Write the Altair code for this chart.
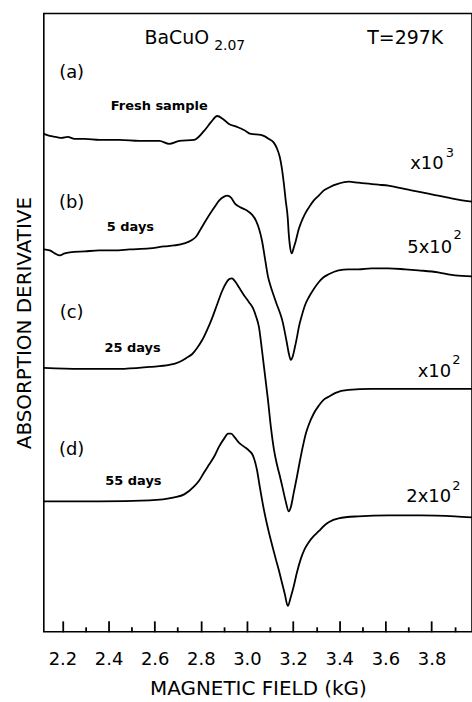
import altair as alt
import pandas as pd

# ---- curve data (field in kG, signal in arbitrary offset units) ----
field_a = [2.120, 2.145, 2.171, 2.197, 2.223, 2.253, 2.297, 2.361, 2.448, 2.534, 2.620, 2.663, 2.707, 2.771,
           2.814, 2.845, 2.871, 2.896, 2.922, 2.957, 2.987, 3.017, 3.060, 3.095, 3.117, 3.129, 3.142, 3.151,
           3.160, 3.168, 3.177, 3.181, 3.186, 3.194, 3.203, 3.211, 3.224, 3.233, 3.250, 3.268, 3.289, 3.311,
           3.332, 3.354, 3.397, 3.440, 3.483, 3.527, 3.570, 3.613, 3.656, 3.699, 3.742, 3.786, 3.829, 3.872,
           3.915, 3.975]
sig_a = [500, 498, 497, 496, 497, 495, 495, 494, 494, 493, 493, 490, 493, 494, 503, 512, 518, 515, 510, 507,
         504, 500, 499, 495, 491, 486, 477, 466, 450, 433, 415, 400, 388, 380, 386, 392, 404, 410, 419, 426,
         433, 438, 443, 446, 450, 452, 451, 450, 449, 448, 446, 444, 442, 440, 438, 436, 434, 432]

field_b = [2.120, 2.145, 2.167, 2.189, 2.210, 2.232, 2.297, 2.361, 2.426, 2.491, 2.577, 2.642, 2.685, 2.728,
           2.758, 2.780, 2.801, 2.827, 2.858, 2.879, 2.901, 2.914, 2.931, 2.948, 2.974, 3.000, 3.022, 3.039,
           3.052, 3.065, 3.078, 3.091, 3.104, 3.117, 3.129, 3.142, 3.155, 3.164, 3.173, 3.181, 3.190, 3.199,
           3.207, 3.216, 3.224, 3.237, 3.250, 3.268, 3.289, 3.311, 3.332, 3.354, 3.397, 3.440, 3.483, 3.539,
           3.613, 3.686, 3.742, 3.829, 3.872, 3.902, 3.975]
sig_b = [384, 383, 380, 378, 380, 381, 382, 383, 383, 384, 385, 387, 388, 390, 393, 397, 405, 415, 426, 433,
         437, 438, 436, 430, 426, 423, 419, 413, 405, 393, 375, 357, 346, 337, 329, 321, 311, 301, 290, 280,
         273, 277, 285, 295, 305, 317, 327, 336, 344, 351, 356, 359, 363, 364, 364, 365, 365, 364, 363, 361,
         359, 358, 357]

field_c = [2.120, 2.275, 2.448, 2.577, 2.663, 2.707, 2.737, 2.763, 2.784, 2.806, 2.827, 2.849, 2.871, 2.892,
           2.909, 2.922, 2.935, 2.948, 2.965, 2.987, 3.009, 3.026, 3.039, 3.052, 3.065, 3.078, 3.091, 3.104,
           3.117, 3.129, 3.142, 3.155, 3.168, 3.181, 3.190, 3.203, 3.216, 3.229, 3.242, 3.255, 3.268, 3.289,
           3.311, 3.332, 3.354, 3.384, 3.440, 3.539, 3.656, 3.975]
sig_c = [265, 264, 264, 266, 268, 271, 275, 279, 285, 293, 303, 315, 329, 342, 350, 354, 355, 352, 346, 338,
         331, 325, 317, 306, 283, 258, 233, 205, 183, 169, 157, 144, 131, 121, 125, 140, 155, 171, 186, 199,
         208, 219, 227, 233, 236, 240, 243, 244, 244, 244]

field_d = [2.120, 2.361, 2.577, 2.685, 2.728, 2.771, 2.793, 2.814, 2.836, 2.858, 2.879, 2.901, 2.918, 2.931,
           2.948, 2.965, 2.987, 3.009, 3.026, 3.043, 3.056, 3.069, 3.082, 3.095, 3.108, 3.125, 3.138, 3.151,
           3.164, 3.177, 3.190, 3.203, 3.216, 3.233, 3.250, 3.268, 3.289, 3.311, 3.332, 3.354, 3.397, 3.483,
           3.613, 3.755, 3.902, 3.975]
sig_d = [131, 131, 132, 135, 138, 146, 152, 160, 168, 176, 186, 194, 199, 199, 195, 190, 186, 182, 177, 163,
         145, 128, 113, 100, 88, 73, 62, 50, 38, 26, 35, 46, 59, 73, 83, 90, 96, 101, 106, 110,
         114, 116, 117, 117, 116, 115]

# ---- axis tick values ----
major_ticks = [2.2, 2.4, 2.6, 2.8, 3.0, 3.2, 3.4, 3.6, 3.8]
all_ticks = [2.2, 2.3, 2.4, 2.5, 2.6, 2.7, 2.8, 2.9, 3.0, 3.1, 3.2, 3.3, 3.4, 3.5, 3.6, 3.7, 3.8, 3.9]

# ---- annotations ----
panel_labels = ["(a)", "(b)", "(c)", "(d)"]
panel_field = [2.240, 2.240, 2.240, 2.240]
panel_signal = [561, 431, 320, 183]

age_labels = ["Fresh sample", "5 days", "25 days", "55 days"]
age_field = [2.620, 2.495, 2.504, 2.508]
age_signal = [528, 407, 285, 151]

gain_labels = ["x10", "5x10", "x10", "2x10"]
gain_field = [3.852, 3.889, 3.885, 3.885]
gain_signal = [465, 380, 256, 130]
gain_exp = ["3", "2", "2", "2"]
gain_exp_field = [3.862, 3.895, 3.890, 3.890]
gain_exp_signal = [477, 394, 269, 142]

FONT = "DejaVu Sans"

curves = pd.concat([
    pd.DataFrame({"field": f, "signal": s, "curve": n})
    for f, s, n in [(field_a, sig_a, "a"), (field_b, sig_b, "b"), (field_c, sig_c, "c"), (field_d, sig_d, "d")]
])

x_scale = alt.Scale(domain=[2.1195, 3.9754], nice=False, zero=False)
y_scale = alt.Scale(domain=[0, 621], nice=False, zero=False)

lines = alt.Chart(curves).mark_line(color="black", strokeWidth=1.8, interpolate="monotone").encode(
    x=alt.X("field:Q", scale=x_scale,
            axis=alt.Axis(orient="bottom", values=major_ticks, format=".1f", ticks=False, domain=False,
                          grid=False, labelFontSize=18, labelPadding=19, labelFont=FONT, labelColor="black",
                          title="MAGNETIC FIELD (kG)", titleFontSize=20, titlePadding=10,
                          titleFontWeight="normal", titleFont=FONT, titleColor="black")),
    y=alt.Y("signal:Q", scale=y_scale,
            axis=alt.Axis(orient="left", labels=False, ticks=False, domain=False, grid=False,
                          title="ABSORPTION DERIVATIVE", titleFontSize=20, titlePadding=9,
                          titleFontWeight="normal", titleFont=FONT, titleColor="black")),
    detail="curve:N",
)

ticks = alt.Chart(pd.DataFrame({"tick": all_ticks})).mark_point(opacity=0).encode(
    x=alt.X("tick:Q", scale=x_scale,
            axis=alt.Axis(orient="top", offset=-621, values=all_ticks, labels=False, domain=False,
                          grid=False, title=None, ticks=True, tickColor="black", tickWidth=1.8,
                          tickSize={"condition": {"test": "round(datum.value*10) % 2 == 0", "value": 11},
                                    "value": 5})),
)


def text_layer(df, size, align, baseline, weight="normal"):
    return alt.Chart(df).mark_text(font=FONT, fontSize=size, align=align, baseline=baseline,
                                   fontWeight=weight, color="black").encode(
        x=alt.X("field:Q", scale=x_scale, axis=None),
        y=alt.Y("signal:Q", scale=y_scale, axis=None),
        text="label:N",
    )


panels = text_layer(pd.DataFrame({"label": panel_labels, "field": panel_field, "signal": panel_signal}),
                    18, "center", "middle")
ages = text_layer(pd.DataFrame({"label": age_labels, "field": age_field, "signal": age_signal}),
                  13, "center", "middle", "bold")
gains = text_layer(pd.DataFrame({"label": gain_labels, "field": gain_field, "signal": gain_signal}),
                   18, "right", "alphabetic")
gain_exps = text_layer(pd.DataFrame({"label": gain_exp, "field": gain_exp_field, "signal": gain_exp_signal}),
                       13, "left", "alphabetic")
compound = text_layer(pd.DataFrame({"label": ["BaCuO"], "field": [2.5555], "signal": [590]}),
                      19, "left", "alphabetic")
compound_sub = text_layer(pd.DataFrame({"label": ["2.07"], "field": [2.858], "signal": [584]}),
                          14, "left", "alphabetic")
temp = text_layer(pd.DataFrame({"label": ["T=297K"], "field": [3.686], "signal": [590]}),
                  19, "center", "alphabetic")

chart = alt.layer(lines, ticks, panels, ages, gains, gain_exps, compound, compound_sub, temp).resolve_axis(
    x="independent", y="independent"
).properties(
    width=430, height=621,
    autosize=alt.AutoSizeParams(type="none"),
    padding={"left": 44, "top": 12, "right": 0, "bottom": 69},
    background="white",
).configure_view(stroke="black", strokeWidth=1.6)

chart.save("out.html", embed_options={"renderer": "svg", "actions": False})
